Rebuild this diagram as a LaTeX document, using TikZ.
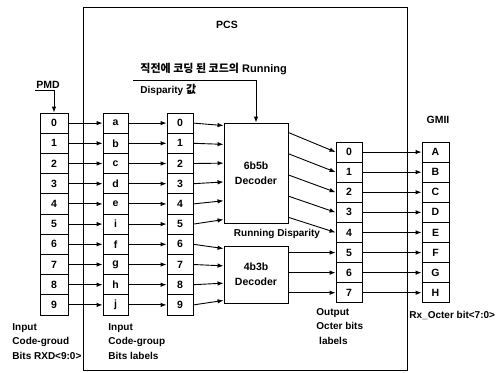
\documentclass[tikz,border=0pt]{standalone}
\usepackage{fontspec}
\setmainfont{Liberation Sans}
\newfontfamily\kr{Noto Sans CJK KR}
\usetikzlibrary{arrows.meta,calc}
\begin{document}
\begin{tikzpicture}[x=1pt,y=-1pt, line width=0.9pt,
  >={Latex[length=6pt,width=4.5pt]},
  cell/.style={draw, minimum height=20.2pt, inner sep=0pt, font=\bfseries\fontsize{10.5}{12}\selectfont},
  dec/.style={draw, minimum width=64pt, align=center, inner sep=0pt, font=\bfseries\fontsize{10.5}{15}\selectfont},
  lbl/.style={font=\bfseries\fontsize{10}{14.5}\selectfont, align=left, inner sep=0pt},
  ttl/.style={font=\bfseries\fontsize{10.5}{12}\selectfont, inner sep=0pt}]
\useasboundingbox (0,0) rectangle (502,372);
% PCS frame
\draw[line width=0.8pt] (83,7) rectangle (407,370);
\node[ttl] (pcs) at (227,25) {PCS};
% columns
\foreach \i in {0,...,9} {
  \node[cell, minimum width=28pt] (p\i) at (54, {123.1+\i*20.2}) {\i};
  \node[cell, minimum width=26pt] (d\i) at (180, {123.1+\i*20.2}) {\i};
}
\foreach \l [count=\i from 0] in {a,b,c,d,e,i,f,g,h,j}
  \node[cell, minimum width=25pt] (c\i) at (115.5, {123.1+\i*20.2}) {\l};
\foreach \i in {0,...,7}
  \node[cell, minimum width=26pt, minimum height=20.1pt] (o\i) at (349, {152.05+\i*20.1}) {\i};
\foreach \l [count=\i from 0] in {A,B,C,D,E,F,G,H}
  \node[cell, minimum width=27pt, minimum height=20.1pt] (g\i) at (435.5, {152.05+\i*20.1}) {\l};
% decoders
\node[dec, minimum height=100pt] (dA) at (256,173) {6b5b\\Decoder};
\node[dec, minimum height=57pt] (dB) at (256,274.5) {4b3b\\Decoder};
% labels
\node[ttl, anchor=south west, inner sep=1pt] (pmd) at (35,90) {PMD};
\node[ttl] (gmii) at (438,120) {GMII};
\node[ttl, font=\bfseries\fontsize{10}{12}\selectfont] (rd) at (277,234) {Running Disparity};
\node[lbl, anchor=base west, font=\bfseries\fontsize{11}{14}\selectfont] (kr1) at (140,72) {{\kr\bfseries 직전에 코딩 된 코드의} Running};
\node[lbl, anchor=west] (disp) at (140,90) {Disparity {\kr\bfseries\fontsize{11}{14}\selectfont 값}};
\coordinate (tl) at (133,80);
\node[lbl, anchor=north west] (in1) at (12,323) {Input\\Code-groud\\Bits RXD<9:0>};
\node[lbl, anchor=north west] (in2) at (108,323) {Input\\Code-group\\Bits labels};
\node[lbl, anchor=north west] (outl) at (316,308) {Output\\Octer bits\\\ labels};
\node[lbl, anchor=west] (rx) at (409,315) {Rx\_Octer bit<7:0>};
% connectors
\draw[->] (pmd.south west) -- (pmd.south west -| p0.north) -- (p0.north);
\draw[->] (tl) -- (tl -| dA.north) -- (dA.north);
\foreach \i in {0,...,9} {
  \draw[->] (p\i) -- (c\i);
  \draw[->] (c\i) -- (d\i);
}
\foreach \i in {0,...,5}
  \draw[->] (d\i.east) -- ($(dA.north west)+(0,{3+18.8*\i})$);
\foreach \i/\k in {6/0,7/1,8/2,9/3}
  \draw[->] (d\i.east) -- ($(dB.north west)+(0,{3+17.3*\k})$);
\foreach \i in {0,...,4}
  \draw[->] ($(dA.north east)+(0,{10+21.2*\i})$) -- (o\i.west);
\foreach \i in {5,6,7}
  \draw[->] (o\i.west -| dB.east) -- (o\i.west);
\foreach \i in {0,...,7}
  \draw[->] (o\i) -- (g\i);
\end{tikzpicture}
\end{document}
